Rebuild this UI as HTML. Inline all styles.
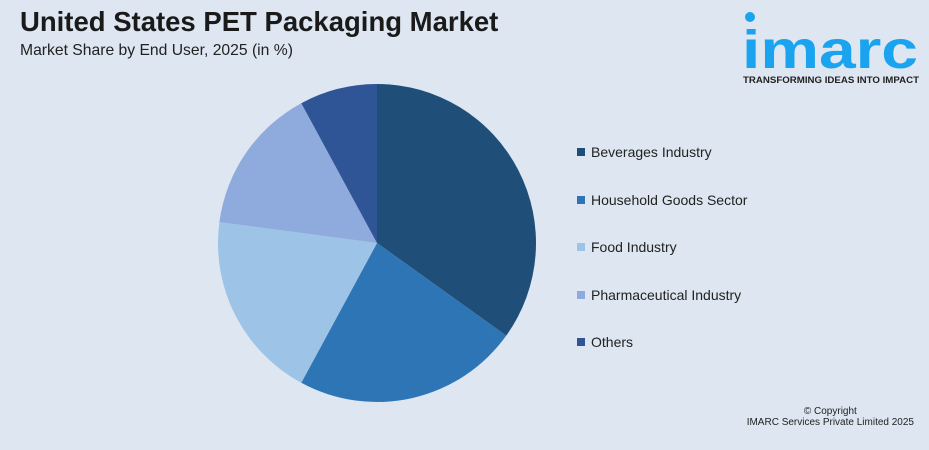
<!DOCTYPE html>
<html><head><meta charset="utf-8"><style>
body{margin:0;width:929px;height:450px;background:#dde6f1;font-family:"Liberation Sans",sans-serif;position:relative;overflow:hidden}
.t{position:absolute;left:20px;top:6px;font-size:27.5px;font-weight:bold;color:#1a1a1a}
.s{position:absolute;left:20px;top:42px;font-size:15.7px;color:#222}
.logo{position:absolute;left:742px;top:4px;width:180px}
.leg{position:absolute;left:577px;font-size:14px;color:#222}
.leg i{display:inline-block;width:8px;height:8px;margin-right:6px;vertical-align:1px}
.cp{position:absolute;right:15px;top:406px;font-size:10px;color:#222;text-align:center}
</style></head><body>
<div class="t">United States PET Packaging Market</div>
<div class="s">Market Share by End User, 2025 (in %)</div>
<div class="logo">
<svg width="180" height="80"><circle cx="8" cy="13" r="5" fill="#1aa3ef"/>
<text x="0" y="64" font-size="54" font-weight="bold" fill="#1aa3ef" font-family="Liberation Sans" textLength="176" lengthAdjust="spacingAndGlyphs">imarc</text>
<text x="1" y="79" font-size="9.5" font-weight="bold" fill="#222" font-family="Liberation Sans" textLength="176" lengthAdjust="spacingAndGlyphs">TRANSFORMING IDEAS INTO IMPACT</text></svg></div>
<svg id="pie" width="929" height="450" style="position:absolute;left:0;top:0"></svg>
<div id="legend"></div>
<div class="cp">© Copyright<br>IMARC Services Private Limited 2025</div>
<script>
const categories=["Beverages Industry","Household Goods Sector","Food Industry","Pharmaceutical Industry","Others"];
const values=[34.9,23.0,19.2,15.0,7.9];
const colors=["#1f4e79","#2e75b6","#9dc3e6","#8faadc","#2f5597"];
const cx=377,cy=243,r=159;
const svg=document.getElementById('pie');
const total=values.reduce((a,b)=>a+b,0);
let a=0;
values.forEach((v,i)=>{
  const a0=a,a1=a+v/total*2*Math.PI;a=a1;
  const x0=cx+r*Math.sin(a0),y0=cy-r*Math.cos(a0),x1=cx+r*Math.sin(a1),y1=cy-r*Math.cos(a1);
  const p=document.createElementNS('http://www.w3.org/2000/svg','path');
  p.setAttribute('d',`M${cx},${cy}L${x0},${y0}A${r},${r} 0 ${a1-a0>Math.PI?1:0} 1 ${x1},${y1}Z`);
  p.setAttribute('fill',colors[i]);
  
  
  svg.appendChild(p);
});
const lg=document.getElementById('legend');
categories.forEach((c,i)=>{
  const d=document.createElement('div');
  d.className='leg';d.style.top=(144+i*47.5)+'px';
  d.innerHTML=`<i style="background:${colors[i]}"></i>${c}`;
  
  
  lg.appendChild(d);
});
</script>
</body></html>
